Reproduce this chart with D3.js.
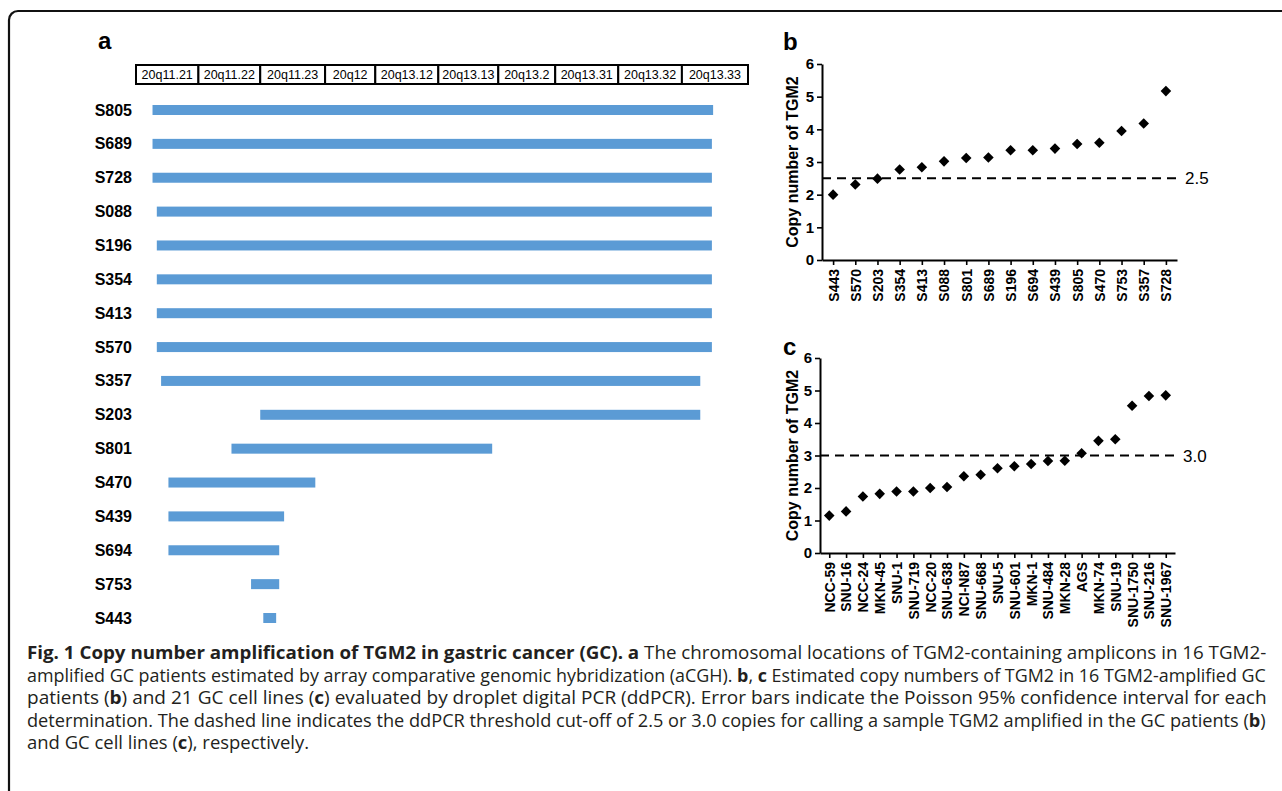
<!DOCTYPE html>
<html>
<head>
<meta charset="utf-8">
<script src="https://cdn.jsdelivr.net/npm/d3@7"></script>
<style>
  html, body { margin: 0; padding: 0; background: #fff; }
  svg { display: block; }
  .lab { font-family: "Liberation Sans", Arial, sans-serif; }
  .cap { font-family: "Open Sans", sans-serif; fill: #231f20; }
</style>
</head>
<body>
<svg id="fig" width="1282" height="791"></svg>
<script>
// panel a: cytobands of 20q and amplicon extents (in band units, 0..10)
const bands = ["20q11.21", "20q11.22", "20q11.23", "20q12", "20q13.12", "20q13.13", "20q13.2", "20q13.31", "20q13.32", "20q13.33"];
const bandEdges = [0, 1.02, 2.03, 3.09, 3.91, 4.94, 5.92, 6.85, 7.88, 8.92, 10];
const patientsA = ["S805", "S689", "S728", "S088", "S196", "S354", "S413", "S570", "S357", "S203", "S801", "S470", "S439", "S694", "S753", "S443"];
const ampStart = [0.27, 0.27, 0.27, 0.34, 0.34, 0.34, 0.34, 0.34, 0.41, 2.03, 1.56, 0.53, 0.53, 0.53, 1.88, 2.08];
const ampEnd = [9.43, 9.41, 9.41, 9.41, 9.41, 9.41, 9.41, 9.41, 9.22, 9.22, 5.82, 2.93, 2.42, 2.34, 2.34, 2.29];

// panel b: patients
const patientsB = ["S443", "S570", "S203", "S354", "S413", "S088", "S801", "S689", "S196", "S694", "S439", "S805", "S470", "S753", "S357", "S728"];
const copyB = [2.0, 2.31, 2.49, 2.77, 2.84, 3.02, 3.12, 3.14, 3.36, 3.36, 3.41, 3.55, 3.59, 3.95, 4.18, 5.17];
const cutB = 2.5;

// panel c: cell lines
const cellLines = ["NCC-59", "SNU-16", "NCC-24", "MKN-45", "SNU-1", "SNU-719", "NCC-20", "SNU-638", "NCI-N87", "SNU-668", "SNU-5", "SNU-601", "MKN-1", "SNU-484", "MKN-28", "AGS", "MKN-74", "SNU-19", "SNU-1750", "SNU-216", "SNU-1967"];
const copyC = [1.15, 1.28, 1.74, 1.82, 1.89, 1.89, 2.0, 2.03, 2.36, 2.41, 2.61, 2.67, 2.74, 2.83, 2.84, 3.07, 3.45, 3.50, 4.53, 4.83, 4.85];
const cutC = 3.0;

const yTicks = [0, 1, 2, 3, 4, 5, 6];

const svg = d3.select("#fig");

// frame
svg.append("rect")
  .attr("x", 9).attr("y", 11)
  .attr("width", 1300).attr("height", 820)
  .attr("rx", 9)
  .attr("fill", "none")
  .attr("stroke", "#111")
  .attr("stroke-width", 2.2);

// ---------- panel a ----------
const xA = d3.scaleLinear().domain([0, 10]).range([136, 748]);
const yA = d3.scalePoint().domain(patientsA).range([110, 618]);

svg.append("text").attr("class", "lab")
  .attr("x", 98).attr("y", 49)
  .style("font-size", "24px").style("font-weight", "bold")
  .text("a");

const head = svg.append("g");
head.selectAll("rect")
  .data(bands)
  .enter()
  .append("rect")
  .attr("x", (d, i) => xA(bandEdges[i]))
  .attr("y", 65)
  .attr("width", (d, i) => xA(bandEdges[i + 1]) - xA(bandEdges[i]))
  .attr("height", 19)
  .attr("fill", "#fff")
  .attr("stroke", "#000")
  .attr("stroke-width", 2);
head.selectAll("text")
  .data(bands)
  .enter()
  .append("text")
  .attr("class", "lab")
  .attr("x", (d, i) => (xA(bandEdges[i]) + xA(bandEdges[i + 1])) / 2)
  .attr("y", 79)
  .attr("text-anchor", "middle")
  .style("font-size", "12.5px")
  .text(d => d);

svg.append("g").selectAll("rect")
  .data(patientsA)
  .enter()
  .append("rect")
  .attr("x", (d, i) => xA(ampStart[i]))
  .attr("y", d => yA(d) - 5)
  .attr("width", (d, i) => xA(ampEnd[i]) - xA(ampStart[i]))
  .attr("height", 10)
  .attr("fill", "#5b9bd5");

svg.append("g").selectAll("text")
  .data(patientsA)
  .enter()
  .append("text")
  .attr("class", "lab")
  .attr("x", 132)
  .attr("y", d => yA(d) + 5.5)
  .attr("text-anchor", "end")
  .style("font-size", "16px").style("font-weight", "bold")
  .text(d => d);

// ---------- panels b, c ----------
function drawScatter(opt) {
  const x = d3.scalePoint().domain(opt.names).range([opt.x0, opt.x1]).padding(opt.pad);
  const y = d3.scaleLinear().domain([0, 6]).range([opt.yBottom, opt.yTop]);
  const g = svg.append("g");

  g.append("text").attr("class", "lab")
    .attr("x", 783).attr("y", opt.letterY)
    .style("font-size", "24px").style("font-weight", "bold")
    .text(opt.letter);

  const ya = g.append("g")
    .attr("transform", "translate(" + opt.x0 + ",0)")
    .call(d3.axisLeft(y).tickValues(yTicks).tickFormat(d3.format("d")).tickSize(5).tickSizeOuter(0).tickPadding(3));
  const xa = g.append("g")
    .attr("transform", "translate(0," + opt.yBottom + ")")
    .call(d3.axisBottom(x).tickSize(5).tickSizeOuter(0).tickPadding(4));

  [ya, xa].forEach(a => {
    a.select(".domain").attr("stroke", "#000").attr("stroke-width", 2);
    a.selectAll(".tick line").attr("stroke", "#000").attr("stroke-width", 1.6);
    a.selectAll("text")
      .attr("class", "lab")
      .attr("fill", "#000")
      .style("font-size", "14px").style("font-weight", "bold");
  });
  ya.selectAll("text").style("font-size", "15px");
  xa.selectAll("text")
    .attr("transform", "rotate(-90)")
    .attr("text-anchor", "end")
    .attr("x", -9).attr("y", 0)
    .attr("dy", "0.35em");

  g.append("text").attr("class", "lab")
    .attr("transform", "translate(" + 798 + "," + ((opt.yTop + opt.yBottom) / 2) + ") rotate(-90)")
    .attr("text-anchor", "middle")
    .style("font-size", "16px").style("font-weight", "bold")
    .text("Copy number of TGM2");

  g.append("line")
    .attr("x1", opt.x0).attr("x2", opt.x1 + 2)
    .attr("y1", y(opt.cut)).attr("y2", y(opt.cut))
    .attr("stroke", "#000")
    .attr("stroke-width", 2)
    .attr("stroke-dasharray", "9,6");
  g.append("text").attr("class", "lab")
    .attr("x", opt.x1 + 8).attr("y", y(opt.cut) + 6)
    .style("font-size", "17px")
    .text(opt.cut.toFixed(1));

  g.selectAll("path.pt")
    .data(opt.names)
    .enter()
    .append("path")
    .attr("class", "pt")
    .attr("d", d3.symbol(d3.symbolSquare, 56))
    .attr("transform", (d, i) => "translate(" + x(d) + "," + y(opt.values[i]) + ") rotate(45)")
    .attr("fill", "#000");
}

drawScatter({ names: patientsB, values: copyB, cut: cutB, letter: "b", letterY: 50,
  x0: 822, x1: 1177, pad: 0.5, yTop: 64, yBottom: 260 });
drawScatter({ names: cellLines, values: copyC, cut: cutC, letter: "c", letterY: 355,
  x0: 820, x1: 1175, pad: 0.55, yTop: 358, yBottom: 553 });

// ---------- caption ----------
const capLines = [
  [["Fig. 1 Copy number amplification of TGM2 in gastric cancer (GC). ", 1], ["a", 1], [" The chromosomal locations of TGM2-containing amplicons in 16 TGM2-", 0]],
  [["amplified GC patients estimated by array comparative genomic hybridization (aCGH). ", 0], ["b", 1], [", ", 0], ["c", 1], [" Estimated copy numbers of TGM2 in 16 TGM2-amplified GC", 0]],
  [["patients (", 0], ["b", 1], [") and 21 GC cell lines (", 0], ["c", 1], [") evaluated by droplet digital PCR (ddPCR). Error bars indicate the Poisson 95% confidence interval for each", 0]],
  [["determination. The dashed line indicates the ddPCR threshold cut-off of 2.5 or 3.0 copies for calling a sample TGM2 amplified in the GC patients (", 0], ["b", 1], [")", 0]],
  [["and GC cell lines (", 0], ["c", 1], ["), respectively.", 0]]
];
const capX = 27, capRight = 1267, capY0 = 659, capStep = 22.5;
const scales = [];
capLines.forEach((parts, li) => {
  const t = svg.append("text").attr("class", "cap")
    .style("font-size", "18px")
    .attr("xml:space", "preserve");
  parts.forEach(p => {
    t.append("tspan").text(p[0]).style("font-weight", p[1] ? "bold" : "normal");
  });
  const w = t.node().getComputedTextLength();
  let s;
  if (li < capLines.length - 1) {
    s = (capRight - capX) / w;
    scales.push(s);
  } else {
    s = d3.mean(scales);
  }
  t.attr("transform", "translate(" + capX + "," + (capY0 + li * capStep) + ") scale(" + s + ",1)");
});
</script>
</body>
</html>
